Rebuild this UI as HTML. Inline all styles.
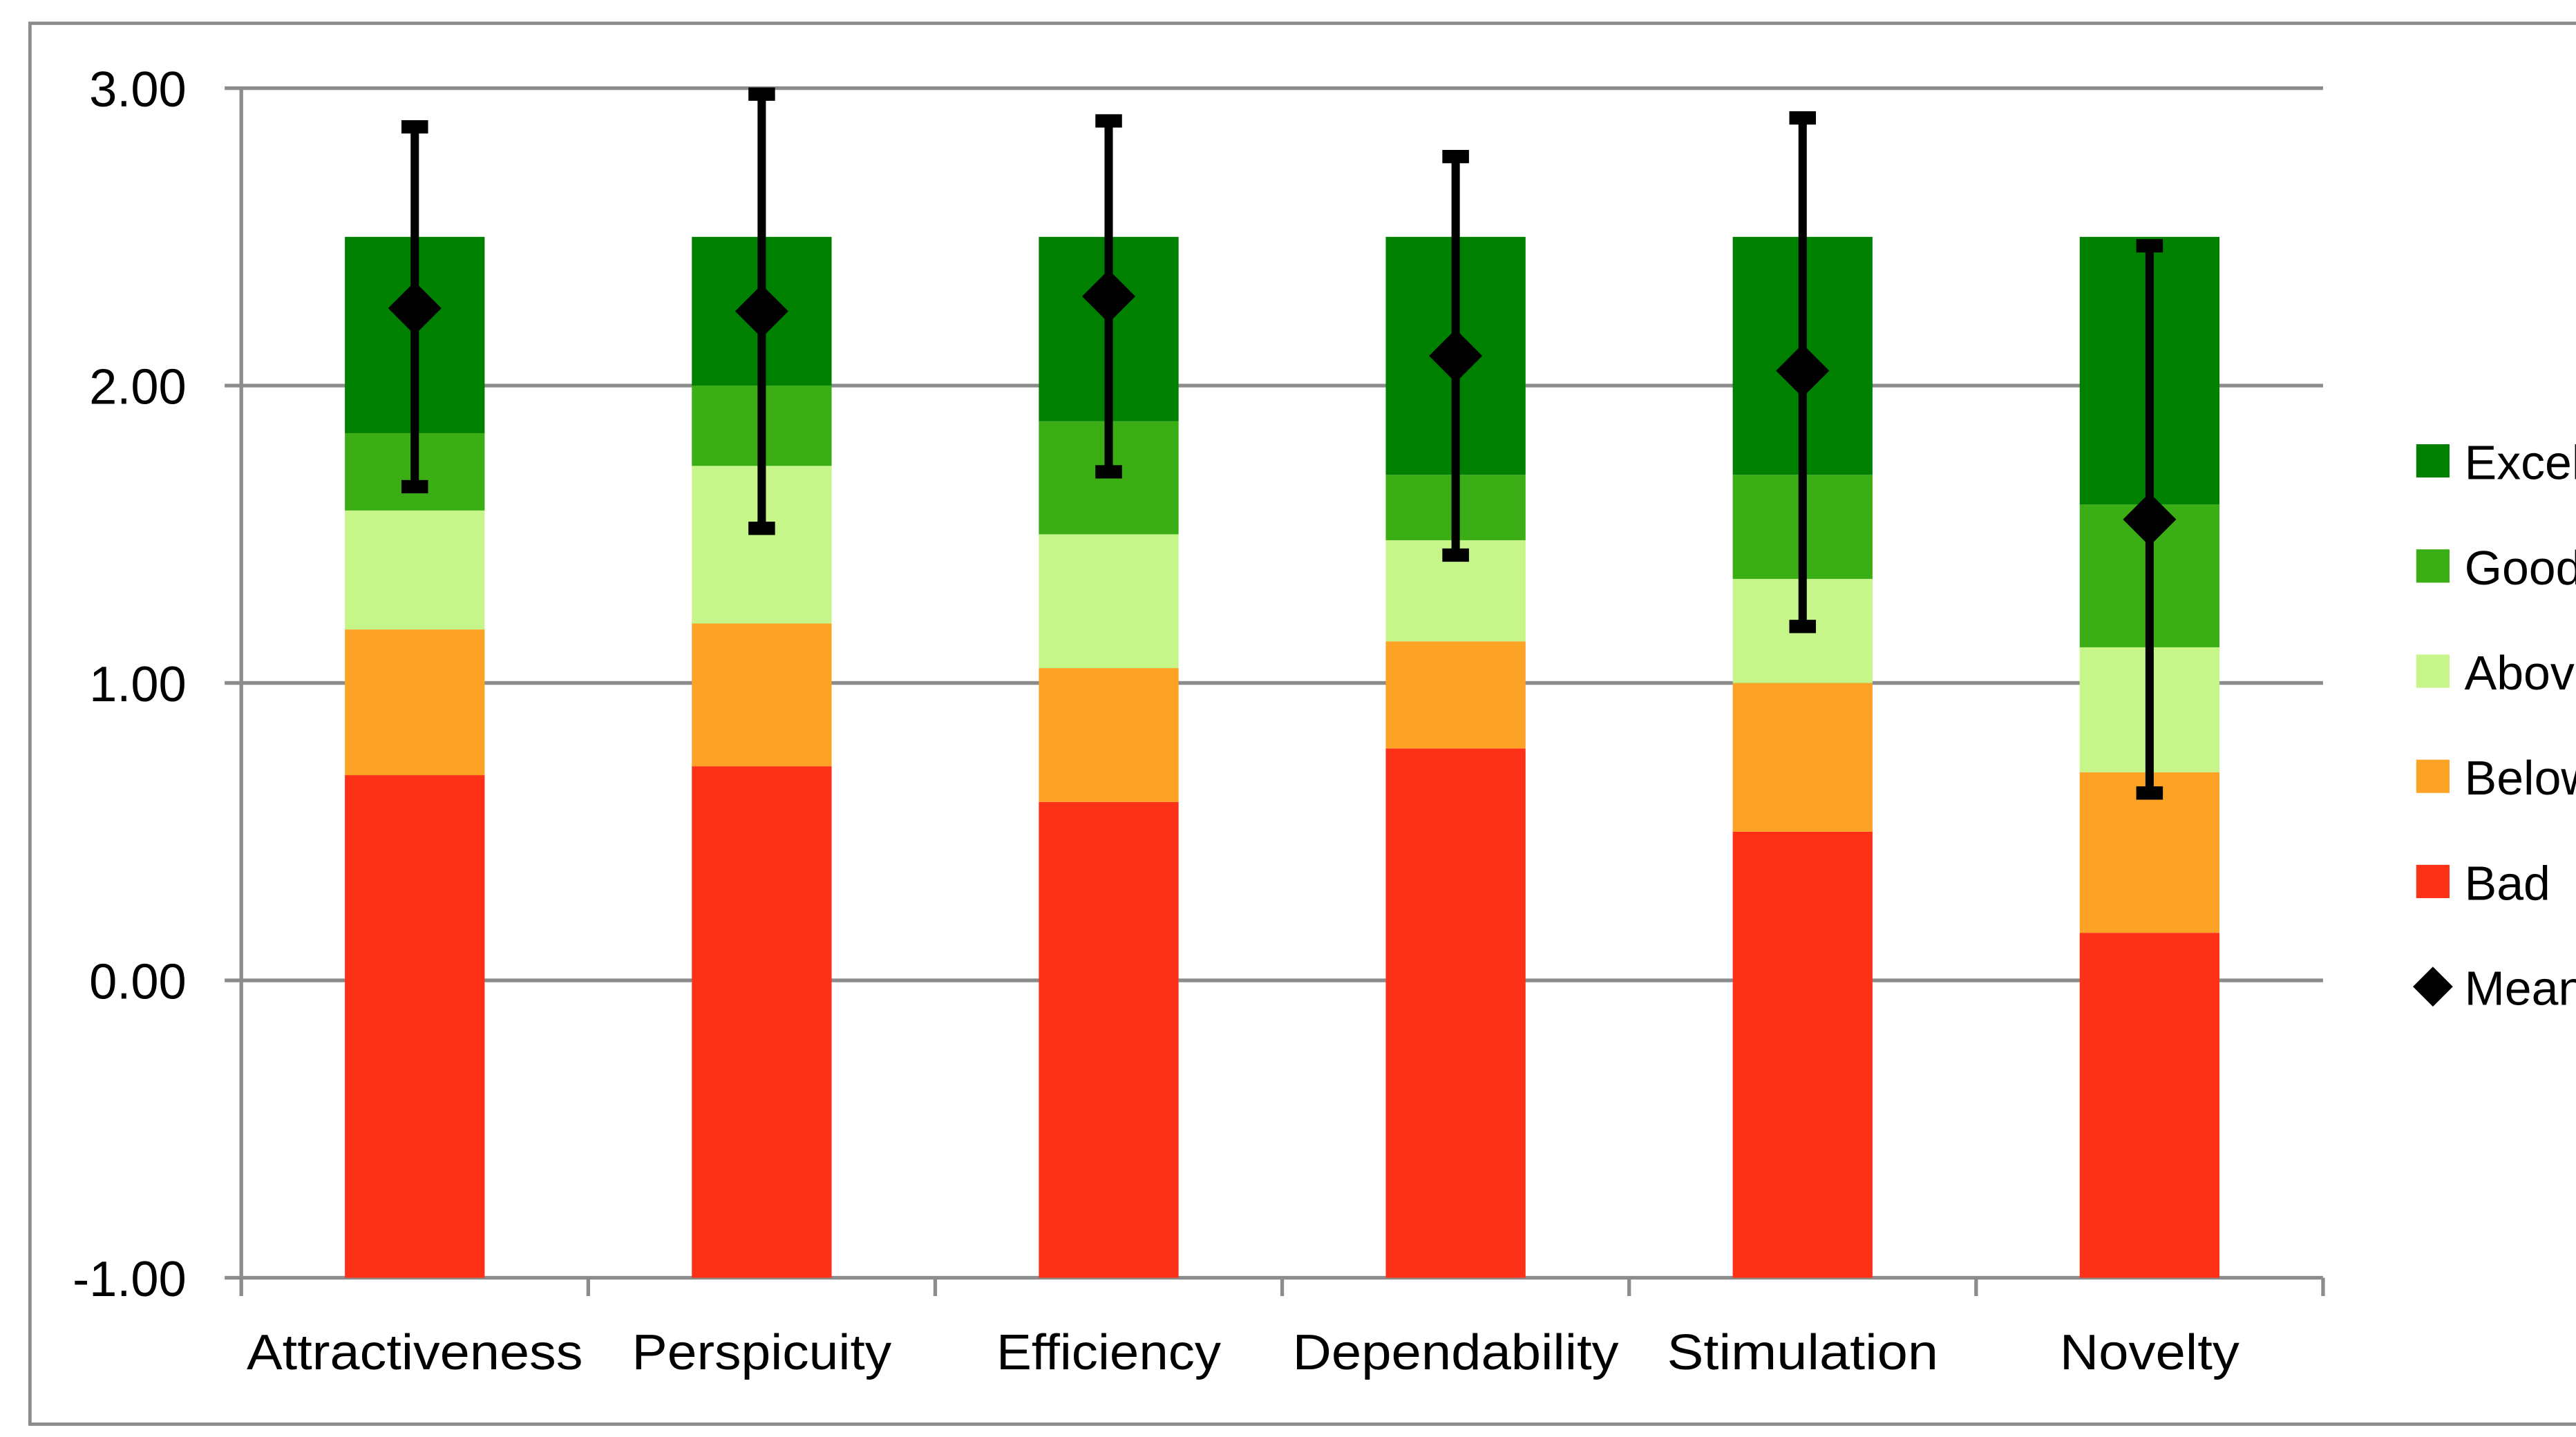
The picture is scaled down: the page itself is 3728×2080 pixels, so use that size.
<!DOCTYPE html>
<html><head><meta charset="utf-8"><style>
html,body{margin:0;padding:0;background:#fff;overflow:hidden}
svg{display:block}
text{font-family:"Liberation Sans","DejaVu Sans",sans-serif;fill:#000}
</style></head><body>
<svg id="chart" width="3728" height="2080" viewBox="0 0 1548 863.7" preserveAspectRatio="none" xmlns="http://www.w3.org/2000/svg">
<rect x="18" y="14" width="1540" height="842" fill="#fff" stroke="#8c8c8c" stroke-width="2"/>
<g id="grid"></g><g id="bars"></g><g id="errs"></g><g id="axes"></g><g id="legend"></g>
</svg>
<script>
const categories=["Attractiveness","Perspicuity","Efficiency","Dependability","Stimulation","Novelty"];
const badTop=[0.69,0.72,0.60,0.78,0.50,0.16];
const belowTop=[1.18,1.20,1.05,1.14,1.00,0.70];
const aboveTop=[1.58,1.73,1.50,1.48,1.35,1.12];
const goodTop=[1.84,2.00,1.88,1.70,1.70,1.60];
const excellentTop=[2.5,2.5,2.5,2.5,2.5,2.5];
const means=[2.26,2.25,2.30,2.10,2.05,1.55];
const errLow=[1.66,1.52,1.71,1.43,1.19,0.63];
const errHigh=[2.87,2.98,2.89,2.77,2.90,2.47];
const yTicks=[3,2,1,0,-1];
const yTickLabels=["3.00","2.00","1.00","0.00","-1.00"];
const legendLabels=["Excellent","Good","Above Average","Below Average","Bad","Mean"];
const catLabelWidths=[202,156,135,196,163,108];

const NS="http://www.w3.org/2000/svg";
const X0=145,X1=1396,Y0=768,YU=178.75,YMIN=-1;
const bandW=(X1-X0)/categories.length;
function y(v){return Y0-(v-YMIN)*YU;}
function xc(i){return X0+bandW*(i+0.5);}
function mk(tag,attrs,parent){const e=document.createElementNS(NS,tag);for(const k in attrs)e.setAttribute(k,attrs[k]);document.getElementById(parent).appendChild(e);return e;}

yTicks.forEach((t,i)=>{
  const g=mk('line',{x1:X0-10,x2:X1,y1:y(t),y2:y(t),stroke:'#8c8c8c','stroke-width':2.2},'grid');
  
  
  const tx=mk('text',{x:112,y:y(t)+11,'text-anchor':'end','font-size':30},'axes');
  tx.textContent=yTickLabels[i];
  
  
});
const ya=mk('line',{x1:X0,x2:X0,y1:y(3),y2:Y0,stroke:'#8c8c8c','stroke-width':2.2},'axes');


for(let i=0;i<=categories.length;i++){
  const t=mk('line',{x1:X0+bandW*i,x2:X0+bandW*i,y1:Y0,y2:Y0+11,stroke:'#8c8c8c','stroke-width':2.2},'axes');
  
  
}

const series=[["bad",badTop,"#fd3018"],["below-average",belowTop,"#fca326"],["above-average",aboveTop,"#c6f58a"],["good",goodTop,"#3aae14"],["excellent",excellentTop,"#008000"]];
const barW=84;
categories.forEach((c,i)=>{
  let prev=YMIN;
  series.forEach(s=>{
    const top=s[1][i];
    const r=mk('rect',{x:xc(i)-barW/2,y:y(top),width:barW,height:y(prev)-y(top),fill:s[2]},'bars');
    
    
    prev=top;
  });
  const cx=xc(i);
  const el=mk('line',{x1:cx,x2:cx,y1:y(errHigh[i]),y2:y(errLow[i]),stroke:'#000','stroke-width':5},'errs');
  
  
  [errHigh[i],errLow[i]].forEach(v=>{
    const cap=mk('rect',{x:cx-8,y:y(v)-4,width:16,height:8,fill:'#000'},'errs');
    
    
  });
  const my=y(means[i]);
  const d=mk('polygon',{points:`${cx-16},${my} ${cx},${my-16} ${cx+16},${my} ${cx},${my+16}`,fill:'#000'},'errs');
  
  
  const lb=mk('text',{x:cx,y:823,'text-anchor':'middle','font-size':30,textLength:catLabelWidths[i],lengthAdjust:'spacingAndGlyphs'},'axes');
  lb.textContent=c;
  
  
});

const legColors=["#008000","#3aae14","#c6f58a","#fca326","#fd3018"];
legendLabels.forEach((l,i)=>{
  const ly=277+i*63.2;
  if(i<5){
    const s=mk('rect',{x:1452,y:ly-10,width:20,height:20,fill:legColors[i]},'legend');
    
    
  } else {
    const s=mk('polygon',{points:`1450,${ly} 1462,${ly-12} 1474,${ly} 1462,${ly+12}`,fill:'#000'},'legend');
    
    
  }
  const t=mk('text',{x:1481,y:ly+11,'font-size':29},'legend');
  t.textContent=l;
  
  
});
</script>
</body></html>
